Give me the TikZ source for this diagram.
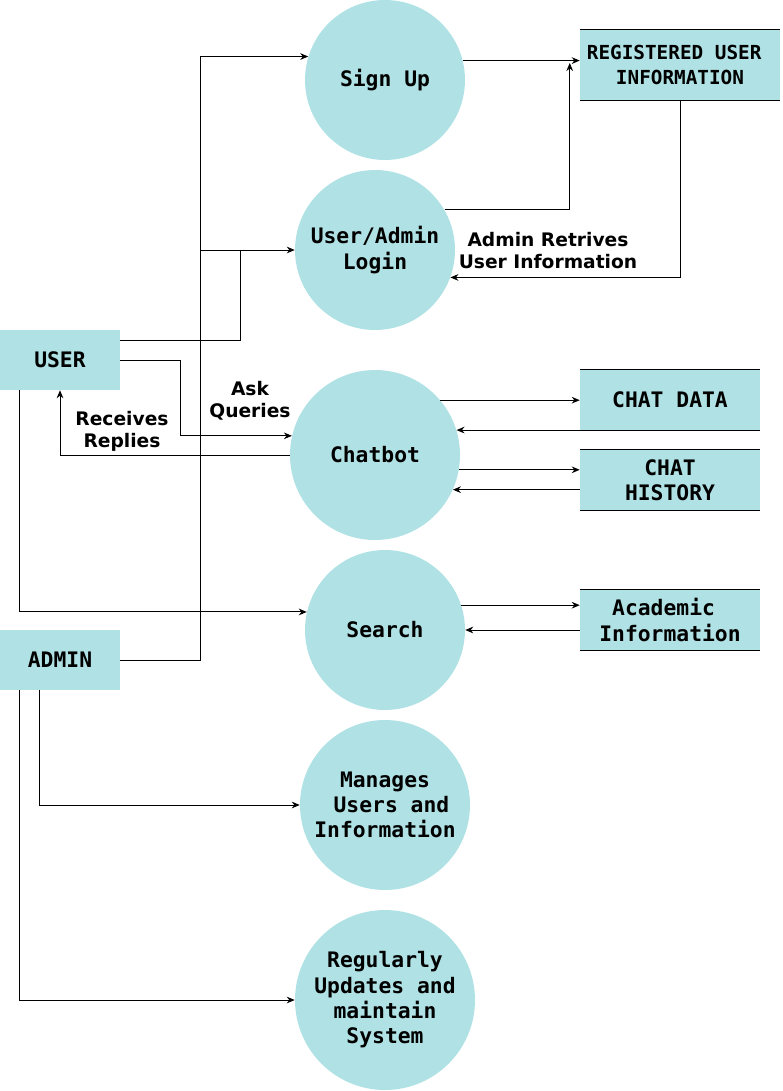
\documentclass[tikz,border=0pt]{standalone}
\usepackage{fontspec}
\newfontfamily\monof{DejaVu Sans Mono}
\newfontfamily\labf{DejaVu Sans}
\usetikzlibrary{arrows.meta,calc}
\definecolor{pb}{RGB}{176,226,229}
\begin{document}
\begin{tikzpicture}[x=0.75pt,y=-0.75pt,
  proc/.style={circle, fill=pb, inner sep=0pt, font=\monof\bfseries\fontsize{16}{19}\selectfont, align=center},
  ent/.style={rectangle, fill=pb, minimum width=90pt, minimum height=45pt, inner sep=0pt, font=\monof\bfseries\fontsize{16}{19}\selectfont, align=center},
  store/.style={rectangle, fill=pb, inner sep=0pt, minimum width=135pt, minimum height=45pt, font=\monof\bfseries\fontsize{16}{19}\selectfont, align=center},
  arr/.style={-{Stealth[length=6pt,width=5pt]}, line width=0.75pt},
  ln/.style={line width=0.75pt},
  lbl/.style={font=\labf\bfseries\fontsize{14}{16.5}\selectfont, align=center, inner sep=0pt}
]
\useasboundingbox (0,0) rectangle (782,1091);

% processes
\node[proc, minimum size=120pt] (signup) at (385,80) {Sign Up};
\node[proc, minimum size=120pt] (login) at (375,250) {User/Admin\\Login};
\node[proc, minimum size=127.5pt] (chatbot) at (375,455) {Chatbot};
\node[proc, minimum size=120pt] (search) at (385,630) {Search};
\node[proc, minimum size=127.5pt] (manages) at (385,805) {Manages\\\phantom{U}Users and\\Information};
\node[proc, minimum size=135pt] (regular) at (385,1000) {Regularly\\Updates and\\maintain\\System};

% entities
\node[ent] (user) at (60,360) {USER};
\node[ent] (admin) at (60,660) {ADMIN};

% data stores
\node[store, minimum width=150pt, minimum height=52.5pt, font=\monof\bfseries\fontsize{14.5}{18.75}\selectfont] (reg) at (680,65) {REGISTERED USER\phantom{I}\\\phantom{I}INFORMATION\phantom{I}};
\node[store] (chatdata) at (670,400) {CHAT DATA};
\node[store] (history) at (670,480) {CHAT\\HISTORY};
\node[store] (acad) at (670,620) {Academic\phantom{c}\\Information};
\foreach \n in {reg,chatdata,history,acad}{
  \draw[ln] (\n.north west) -- (\n.north east);
  \draw[ln] (\n.south west) -- (\n.south east);
}

% junction coordinates
\coordinate (vbus) at ($(admin.east)+(80,0)$);
\coordinate (j1) at (vbus |- login.west);

% connectors
\draw[arr] (signup.14.48) -- (signup.14.48 -| reg.west);
\draw[arr] (login.30) -| ($(reg.west)+(-10,-2)$);
\draw[arr] (reg.south) |- (login.-20.5);

\draw[arr] (admin.east) -- (vbus) |- (signup.163.3);
\draw[arr] (j1) -- (login.west);
\draw[ln] ($(user.east)+(0,-20)$) -| ($(j1)+(40,0)$);

\draw[arr] (user.east) -- ++(60,0) |- (chatbot.167.77);
\draw[arr] (chatbot.west) -| (user.south);
\draw[arr] ($(user.south west)+(20,0)$) |- (search.167);
\draw[arr] ($(admin.south west)+(40,0)$) |- (manages.west);
\draw[arr] ($(admin.south west)+(20,0)$) |- (regular.west);

\draw[arr] (chatbot.40.3) -- (chatbot.40.3 -| chatdata.west);
\draw[arr] (chatbot.17.8 -| chatdata.west) -- (chatbot.17.8);
\draw[arr] (chatbot.-10.17) -- (chatbot.-10.17 -| history.west);
\draw[arr] (chatbot.-24.3 -| history.west) -- (chatbot.-24.3);
\draw[arr] (search.18.2) -- (search.18.2 -| acad.west);
\draw[arr] (search.east -| acad.west) -- (search.east);

% labels
\node[lbl] (lq) at (250,401) {Ask\\Queries};
\node[lbl] (lr) at (122,431) {Receives\\Replies};
\node[lbl] (la) at (548,251) {Admin Retrives\\User Information};
\end{tikzpicture}
\end{document}
